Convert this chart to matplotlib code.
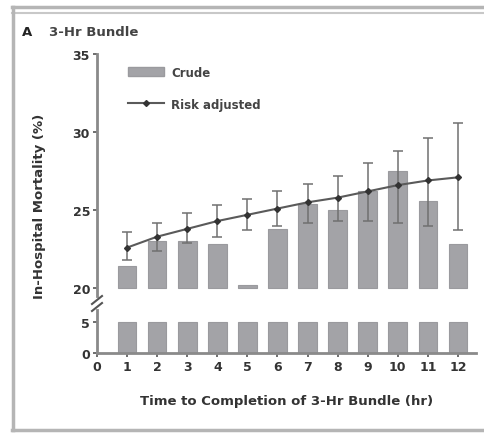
import numpy as np
import matplotlib
matplotlib.use('Agg')
import matplotlib.pyplot as plt
from matplotlib.lines import Line2D
from matplotlib.patches import Patch

hours = [1, 2, 3, 4, 5, 6, 7, 8, 9, 10, 11, 12]
crude = [21.4, 23.0, 23.0, 22.8, 20.2, 23.8, 25.4, 25.0, 26.2, 27.5, 25.6, 22.8]
risk = [22.6, 23.3, 23.8, 24.3, 24.7, 25.1, 25.5, 25.8, 26.2, 26.6, 26.9, 27.1]
risk_lo = [21.8, 22.4, 22.9, 23.3, 23.7, 24.0, 24.2, 24.3, 24.3, 24.2, 24.0, 23.7]
risk_hi = [23.6, 24.2, 24.8, 25.3, 25.7, 26.2, 26.7, 27.2, 28.0, 28.8, 29.6, 30.6]
xticks = list(range(0, 13))
upper_ticks = [20, 25, 30, 35]
lower_ticks = [0, 5]
brk_lo, brk_hi = 5, 20

plt.rcParams['font.family'] = 'DejaVu Sans'
bar_col = '#a3a3a7'
spine_col = '#8a8a8a'
line_col = '#5a5a5a'

fig = plt.figure(figsize=(4.85, 4.35), dpi=100)
W, H = 485, 435
L, R = 97 / W, 476 / W
ax_up = fig.add_axes([L, 1 - 297 / H, R - L, (297 - 55) / H])
ax_lo = fig.add_axes([L, 1 - 354 / H, R - L, (354 - 311) / H])

x = np.array(hours)
cr = np.array(crude)
rk = np.array(risk)
yerr = [rk - np.array(risk_lo), np.array(risk_hi) - rk]

# upper part
ax_up.bar(x, cr - brk_hi, bottom=brk_hi, width=0.62, color=bar_col,
          edgecolor='#9a9a9e', linewidth=0.8, zorder=1)
ax_up.errorbar(x, rk, yerr=yerr, fmt='-D', color=line_col, ecolor='#707070',
               elinewidth=1.1, capsize=3.5, capthick=1.1, markersize=3,
               markerfacecolor='#333333', markeredgecolor='#333333',
               linewidth=1.5, zorder=3)
ax_up.set_ylim(19.5, 35)
ax_up.set_xlim(0, 12.6)
ax_up.set_yticks(upper_ticks)
ax_up.set_xticks([])
for s in ['top', 'right', 'bottom']:
    ax_up.spines[s].set_visible(False)

# lower part
ax_lo.bar(x, np.minimum(cr, brk_lo), width=0.62, color=bar_col,
          edgecolor='#9a9a9e', linewidth=0.8, zorder=1)
ax_lo.set_ylim(0, 7)
ax_lo.set_xlim(0, 12.6)
ax_lo.set_yticks(lower_ticks)
ax_lo.set_xticks(xticks)
for s in ['top', 'right']:
    ax_lo.spines[s].set_visible(False)

for a in (ax_up, ax_lo):
    for s in ['left', 'bottom']:
        a.spines[s].set_color(spine_col)
        a.spines[s].set_linewidth(2)
    a.tick_params(axis='both', length=3, width=1.2, color='#555555',
                  labelsize=9, labelcolor='#333333', pad=2)
    for t in a.get_xticklabels() + a.get_yticklabels():
        t.set_fontweight('bold')

# break marks on the y axis
for yy in (301, 308):
    fig.add_artist(Line2D([(L * W - 5) / W, (L * W + 5) / W],
                          [1 - (yy + 4) / H, 1 - (yy - 4) / H],
                          color='#555555', lw=1.5))

handles = [Patch(facecolor=bar_col, edgecolor='#9a9a9e'),
           Line2D([], [], color=line_col, lw=1.5, marker='D', markersize=3,
                  markerfacecolor='#333333', markeredgecolor='#333333')]
leg = ax_up.legend(handles, ['Crude', 'Risk adjusted'], loc='upper left',
                   bbox_to_anchor=(0.055, 0.995), frameon=False, fontsize=8.5,
                   handlelength=3.0, handleheight=0.8, labelspacing=1.6,
                   handletextpad=0.6)
for t in leg.get_texts():
    t.set_fontweight('bold')
    t.set_color('#444444')

fig.text(40 / W, 1 - 206 / H, 'In-Hospital Mortality (%)', rotation=90,
         ha='center', va='center', fontsize=9.5, fontweight='bold', color='#333333')
fig.text(287 / W, 1 - 402 / H, 'Time to Completion of 3-Hr Bundle (hr)',
         ha='center', va='center', fontsize=9.5, fontweight='bold', color='#333333')
fig.text(22 / W, 1 - 33 / H, 'A', ha='left', va='center', fontsize=9.5,
         fontweight='bold', color='#222222')
fig.text(49 / W, 1 - 33 / H, '3-Hr Bundle', ha='left', va='center', fontsize=9.5,
         fontweight='bold', color='#444444')

# panel frame
fig.add_artist(Line2D([12 / W, 1], [1 - 8 / H, 1 - 8 / H], color='#b5b5b5', lw=2.5))
fig.add_artist(Line2D([12 / W, 1], [1 - 14 / H, 1 - 14 / H], color='#c8c8c8', lw=1.5))
fig.add_artist(Line2D([13 / W, 13 / W], [1 - 431 / H, 1 - 8 / H], color='#b5b5b5', lw=2.5))
fig.add_artist(Line2D([12 / W, 1], [1 - 431 / H, 1 - 431 / H], color='#b5b5b5', lw=2.5))

fig.savefig('out.png', dpi=100)
